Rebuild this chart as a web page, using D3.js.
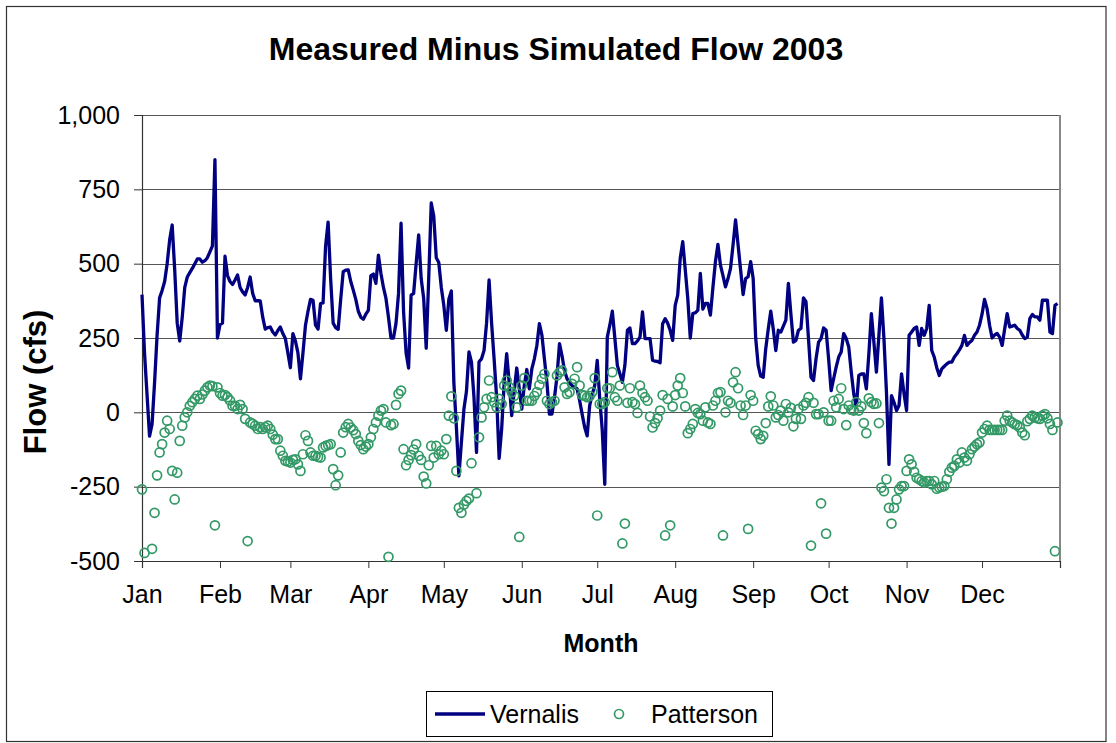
<!DOCTYPE html>
<html>
<head>
<meta charset="utf-8">
<script src="https://cdn.jsdelivr.net/npm/d3@7"></script>
<style>
  html, body { margin: 0; padding: 0; background: #fff; }
  svg { display: block; font-family: "Liberation Sans", Arial, sans-serif; }
</style>
</head>
<body>
<svg id="chart" width="1116" height="743"></svg>
<script>
// Daily measured-minus-simulated flow (cfs), 1 Jan 2003 .. 31 Dec 2003
const startDate = Date.UTC(2003, 0, 1);

const vernalis = [
  396, 200, 60, -80, -40, 100, 260, 385, 410, 440,
  500, 580, 630, 480, 300, 240, 320, 420, 455, 470,
  484, 500, 516, 516, 505, 510, 520, 540, 560, 850,
  250, 295, 300, 525, 460, 440, 430, 445, 462, 420,
  405, 395, 420, 455, 400, 375, 376, 375, 320, 280,
  285, 287, 270, 260, 275, 287, 265, 248, 200, 150,
  265, 240, 200, 113, 200, 293, 340, 380, 377, 293,
  280, 366, 368, 560, 640, 450, 300, 285, 279, 380,
  473, 478, 479, 440, 411, 380, 340, 320, 313, 330,
  343, 460, 465, 434, 529, 467, 420, 383, 320, 250,
  250, 300, 400, 636, 338, 200, 149, 394, 400, 500,
  597, 450, 383, 216, 450, 704, 660, 520, 504, 420,
  360, 276, 380, 408, 100, -50, -214, -100, 11, 70,
  203, 169, 50, -135, 170, 180, 208, 300, 445, 300,
  180, 50, -155, -56, 100, 197, 100, -11, 73, 149,
  80, 11, 90, 144, 79, 146, 180, 225, 298, 260,
  180, 100, -6, -6, 50, 120, 231, 190, 140, 113,
  100, 90, 85, 79, 40, -6, -50, -79, 23, 60,
  90, 175, 45, -60, -242, 253, 293, 340, 250, 158,
  130, 101, 158, 276, 284, 231, 231, 240, 253, 338,
  248, 248, 248, 175, 172, 171, 167, 298, 315, 300,
  276, 242, 360, 394, 518, 574, 480, 383, 250, 332,
  335, 343, 467, 347, 366, 366, 327, 420, 507, 565,
  495, 460, 422, 450, 484, 563, 647, 563, 480, 396,
  450, 456, 507, 450, 250, 158, 122, 118, 214, 280,
  340, 280, 208, 276, 270, 290, 310, 434, 330, 236,
  242, 276, 282, 385, 372, 248, 118, 107, 180, 236,
  248, 284, 276, 180, 73, 113, 152, 186, 203, 265,
  248, 220, 135, 62, 17, 124, 129, 129, 79, 197,
  332, 236, 135, 260, 385, 248, 68, -175, 56, 34,
  6, 23, 129, 62, 6, 259, 270, 282, 287, 225,
  282, 259, 282, 360, 208, 186, 150, 124, 146, 155,
  163, 169, 169, 186, 197, 210, 225, 259, 225, 235,
  242, 259, 270, 293, 330, 380, 349, 293, 250, 260,
  265, 253, 225, 280, 332, 287, 290, 293, 282, 276,
  260, 248, 253, 315, 329, 321, 321, 310, 377, 377,
  377, 270, 265, 360, 366
];

// null = no reading that day
const patterson = [
  -259, -473, null, null, -459, -338, -212, -135, -107, -68,
  -28, -56, -197, -293, -203, -96, -45, -17, 0, 22,
  34, 45, 56, 45, 60, 73, 84, 90, 88, -380,
  84, 65, 56, 58, 51, 40, 22, 22, 11, 25,
  11, -22, -433, -34, -39, -45, -56, -50, -56, -50,
  -45, -56, -75, -90, -90, -129, -146, -163, -165, -169,
  -160, -158, -175, -197, -141, -77, -96, -135, -146, -146,
  -150, -152, -118, -113, -110, -107, -191, -245, -212, -135,
  -68, -50, -39, -51, -60, -73, -96, -110, -124, -115,
  -107, -84, -56, -34, -11, 6, 11, -34, -486, -43,
  -39, 25, 62, 73, -124, -178, -160, -144, -125, -107,
  -146, -160, -216, -239, -178, -113, -152, -113, -141, -129,
  -141, -90, -11, 54, -20, -197, -321, -338, -310, -298,
  -290, -171, null, -272, -84, -17, 17, 45, 107, 51,
  34, 17, 45, 28, 90, 107, 84, 68, 56, 17,
  -419, 90, 115, 39, 39, 39, 55, 68, 92, 113,
  129, 39, 28, 34, 39, 124, 135, 141, 84, 62,
  68, 96, 113, 152, 90, 58, 56, 51, 55, 68,
  115, -347, 28, 28, 34, 81, 81, 135, 51, 39,
  90, -441, -374, 32, 81, 34, 28, -2, 90, 65,
  51, 39, -14, -51, -36, -20, 6, 58, -414, 45,
  -380, 20, 58, 90, 115, 65, 20, -70, -56, -39,
  11, -2, -6, -28, 17, -34, -39, 23, 39, 65,
  68, -414, 0, 39, 32, 101, 135, 81, 23, -9,
  23, -392, 58, 39, -62, -73, -90, -79, -36, 20,
  54, 23, -17, -9, 6, -28, 28, 0, 15, -47,
  -22, 11, -22, 23, 32, 51, -448, 32, -6, -6,
  -306, 0, -408, -28, -28, 39, 17, 45, 81, 11,
  -43, 23, 9, 6, 34, 6, 20, -36, -70, 47,
  34, 28, 30, -36, -253, -265, -225, -321, -374, -321,
  -293, -259, -248, -248, -197, -158, -175, -200, -220, -225,
  -231, -236, -231, -231, -242, -231, -257, -253, -250, -248,
  -225, -200, -186, -180, -158, -169, -135, -152, -163, -141,
  -124, -115, -107, -101, -68, -56, -45, -59, -59, -59,
  -59, -59, -59, -28, -11, -28, -34, -40, -43, -51,
  -68, -77, -30, -22, -11, -17, -20, -22, -11, -6,
  -20, -39, -59, -467, -34
];

const monthLabels = ["Jan", "Feb", "Mar", "Apr", "May", "Jun",
                     "Jul", "Aug", "Sep", "Oct", "Nov", "Dec"];
const yTicks = [-500, -250, 0, 250, 500, 750, 1000];

const titleText = "Measured Minus Simulated Flow 2003";
const xTitle = "Month";
const yTitle = "Flow (cfs)";
const seriesNames = ["Vernalis", "Patterson"];

const navy = "#000080";
const green = "#339966";
const font = "'Liberation Sans', Arial, sans-serif";

const svg = d3.select("#chart");

// outer chart-area frame
svg.append("rect")
  .attr("x", 6.5).attr("y", 6.5)
  .attr("width", 1099.5).attr("height", 735)
  .attr("fill", "#fff").attr("stroke", "#333").attr("stroke-width", 1.2);

const plot = { left: 142, right: 1060, top: 115, bottom: 561 };

const x = d3.scaleUtc()
  .domain([new Date(startDate), new Date(Date.UTC(2004, 0, 1))])
  .range([plot.left, plot.right]);

const y = d3.scaleLinear()
  .domain([-500, 1000])
  .range([plot.bottom, plot.top]);

const dayDate = i => new Date(startDate + i * 86400000);

const fmt = d3.formatLocale({
  decimal: ".", thousands: ",", grouping: [3], currency: ["$", ""], minus: "-"
}).format(",");

// horizontal gridlines
svg.append("g")
  .selectAll("line")
  .data(yTicks.filter(v => v > -500))
  .join("line")
  .attr("x1", plot.left).attr("x2", plot.right)
  .attr("y1", d => Math.round(y(d)) + 0.5).attr("y2", d => Math.round(y(d)) + 0.5)
  .attr("stroke", "#555").attr("stroke-width", 1);

// right edge of plot area
svg.append("line")
  .attr("x1", plot.right).attr("x2", plot.right)
  .attr("y1", plot.top).attr("y2", plot.bottom)
  .attr("stroke", "#888").attr("stroke-width", 2);

// y axis
const yAxis = svg.append("g")
  .attr("transform", `translate(${plot.left},0)`)
  .call(d3.axisLeft(y).tickValues(yTicks).tickFormat(fmt).tickSize(8).tickPadding(14));
yAxis.select(".domain").attr("stroke", "#333").attr("stroke-width", 1.2);
yAxis.selectAll(".tick line").attr("stroke", "#333");
yAxis.selectAll("text")
  .attr("font-family", font).attr("font-size", 25).attr("fill", "#000");

// x axis: month starts, labels only for 2003
const monthTicks = d3.utcMonth.range(new Date(startDate), new Date(Date.UTC(2004, 0, 2)));
const xAxis = svg.append("g")
  .attr("transform", `translate(0,${plot.bottom})`)
  .call(d3.axisBottom(x).tickValues(monthTicks)
    .tickFormat(d => d.getUTCFullYear() === 2003 ? monthLabels[d.getUTCMonth()] : "")
    .tickSize(7).tickPadding(17));
xAxis.select(".domain").attr("stroke", "#333").attr("stroke-width", 1.2);
xAxis.selectAll(".tick line").attr("stroke", "#333");
xAxis.selectAll("text")
  .attr("font-family", font).attr("font-size", 25).attr("fill", "#000");

// Vernalis line
const line = d3.line()
  .x((d, i) => x(dayDate(i)))
  .y(d => y(d));
svg.append("path")
  .datum(vernalis)
  .attr("d", line)
  .attr("fill", "none")
  .attr("stroke", navy)
  .attr("stroke-width", 3.3)
  .attr("stroke-linejoin", "round");

// Patterson markers
svg.append("g")
  .selectAll("circle")
  .data(patterson.map((v, i) => ({ i, v })).filter(d => d.v !== null))
  .join("circle")
  .attr("cx", d => x(dayDate(d.i)))
  .attr("cy", d => y(d.v))
  .attr("r", 4.5)
  .attr("fill", "none")
  .attr("stroke", green)
  .attr("stroke-width", 1.7);

// titles
svg.append("text")
  .attr("x", 556).attr("y", 60)
  .attr("text-anchor", "middle")
  .attr("font-family", font).attr("font-weight", "bold").attr("font-size", 32)
  .text(titleText);

svg.append("text")
  .attr("x", 601).attr("y", 652)
  .attr("text-anchor", "middle")
  .attr("font-family", font).attr("font-weight", "bold").attr("font-size", 25)
  .text(xTitle);

svg.append("text")
  .attr("transform", "translate(46,382) rotate(-90)")
  .attr("text-anchor", "middle")
  .attr("font-family", font).attr("font-weight", "bold").attr("font-size", 31)
  .text(yTitle);

// legend
const lg = svg.append("g");
lg.append("rect")
  .attr("x", 426.5).attr("y", 691.5).attr("width", 346).attr("height", 45)
  .attr("fill", "#fff").attr("stroke", "#000").attr("stroke-width", 1);
lg.append("line")
  .attr("x1", 435).attr("x2", 485).attr("y1", 714).attr("y2", 714)
  .attr("stroke", navy).attr("stroke-width", 3.3);
lg.append("text")
  .attr("x", 490).attr("y", 723)
  .attr("font-family", font).attr("font-size", 25)
  .text(seriesNames[0]);
lg.append("circle")
  .attr("cx", 619).attr("cy", 714).attr("r", 4.5)
  .attr("fill", "none").attr("stroke", green).attr("stroke-width", 1.7);
lg.append("text")
  .attr("x", 651).attr("y", 723)
  .attr("font-family", font).attr("font-size", 25)
  .text(seriesNames[1]);
</script>
</body>
</html>
